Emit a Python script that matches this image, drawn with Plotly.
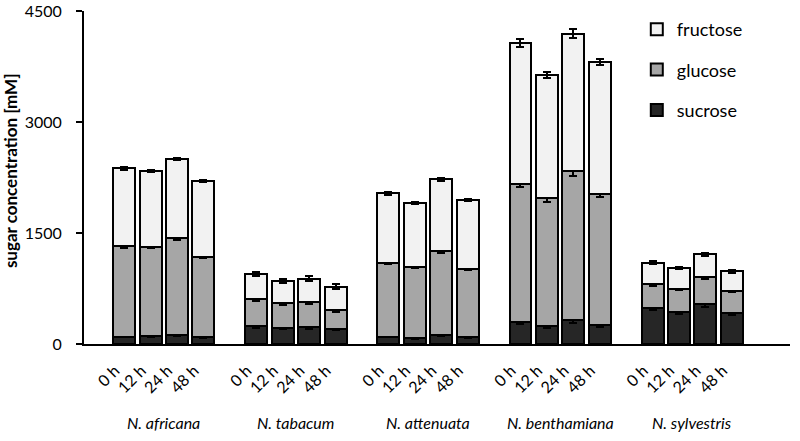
import plotly.graph_objects as go

species = ["N. africana", "N. tabacum", "N. attenuata", "N. benthamiana", "N. sylvestris"]
times = ["0 h", "12 h", "24 h", "48 h"]

# cumulative tops (mM)
sucrose_top = [100, 108, 121, 89,   240, 220, 225, 205,   98, 81, 121, 89,   300, 240, 320, 260,   485, 430, 535, 420]
glucose_top = [1321, 1316, 1437, 1181,   607, 548, 561, 462,   1100, 1046, 1258, 1015,   2161, 1968, 2332, 2026,   809, 750, 907, 719]
total_top = [2372, 2336, 2498, 2201,   944, 849, 885, 777,   2035, 1901, 2224, 1949,   4066, 3634, 4192, 3810,   1100, 1029, 1213, 984]

sucrose_err = [10, 10, 12, 10,   25, 22, 22, 22,   10, 10, 12, 10,   30, 25, 35, 25,   30, 28, 32, 28]
glucose_err = [22, 22, 25, 22,   28, 25, 25, 25,   20, 20, 25, 20,   40, 45, 55, 45,   20, 20, 22, 20]
fructose_err = [15, 18, 18, 15,   30, 28, 28, 35,   15, 15, 18, 15,   55, 45, 60, 40,   20, 18, 22, 18]

sucrose = sucrose_top
glucose = [g - s for g, s in zip(glucose_top, sucrose_top)]
fructose = [t - g for t, g in zip(total_top, glucose_top)]

# x positions: 4 bars per species with one empty slot between species
xpos = []
tick_text = []
for gi in range(len(species)):
    for ti in range(len(times)):
        xpos.append(gi * 5 + ti)
        tick_text.append(times[ti])
centers = [gi * 5 + 1.5 for gi in range(len(species))]

font_family = "Lato, 'Open Sans', sans-serif"

fig = go.Figure()
series = [
    ("sucrose", sucrose, sucrose_err, "#262626", 3),
    ("glucose", glucose, glucose_err, "#a6a6a6", 2),
    ("fructose", fructose, fructose_err, "#f2f2f2", 1),
]
for name, vals, errs, col, rank in series:
    fig.add_trace(go.Bar(
        x=xpos, y=vals, name=name, width=0.83,
        marker=dict(color=col, line=dict(color="black", width=2)),
        error_y=dict(type="data", array=errs, visible=True, color="black", thickness=2, width=4),
        legendgroup=name, legendrank=rank,
    ))

for c, sp in zip(centers, species):
    fig.add_annotation(x=c, y=-0.235, xref="x", yref="paper", text=sp, showarrow=False,
                       font=dict(family=font_family, size=16, color="black", style="italic"),
                       xanchor="center", yanchor="middle")

fig.add_annotation(x=-0.103, y=0.52, xref="paper", yref="paper", text="<b>sugar concentration [mM]</b>",
                   textangle=-90, showarrow=False, xanchor="center", yanchor="middle",
                   font=dict(family=font_family, size=17, color="black"))

fig.update_layout(
    barmode="stack",
    width=800, height=441,
    margin=dict(l=84, r=10, t=11, b=97),
    paper_bgcolor="white", plot_bgcolor="white",
    font=dict(family=font_family, color="black"),
    showlegend=True,
    legend=dict(x=0.783, y=1.0, xanchor="left", yanchor="top", traceorder="grouped",
                tracegroupgap=14, font=dict(size=18, family=font_family),
                bgcolor="rgba(0,0,0,0)", itemwidth=30),
    xaxis=dict(
        range=[-1.52, 25.2], tickmode="array", tickvals=[x - 0.35 for x in xpos], ticktext=tick_text,
        tickangle=-45, showline=True, linecolor="black", linewidth=2, ticks="outside",
        ticklen=9, tickcolor="rgba(0,0,0,0)", showgrid=False, zeroline=False,
        tickfont=dict(size=16, family=font_family), automargin=False,
    ),
    yaxis=dict(
        range=[0, 4500], tickmode="array", tickvals=[0, 1500, 3000, 4500],
        ticktext=["0", "1500", "3000", "4500"], showline=True, linecolor="black",
        linewidth=2, ticks="outside", ticklen=6, tickwidth=2, tickcolor="black",
        ticklabelstandoff=11, ticklabeloverflow="allow", automargin=False,
        showgrid=False, zeroline=False, tickfont=dict(size=16, family=font_family),
    ),
)

fig.write_html("out.html", config={"displayModeBar": False},
               post_script="document.body.style.margin='0';")
